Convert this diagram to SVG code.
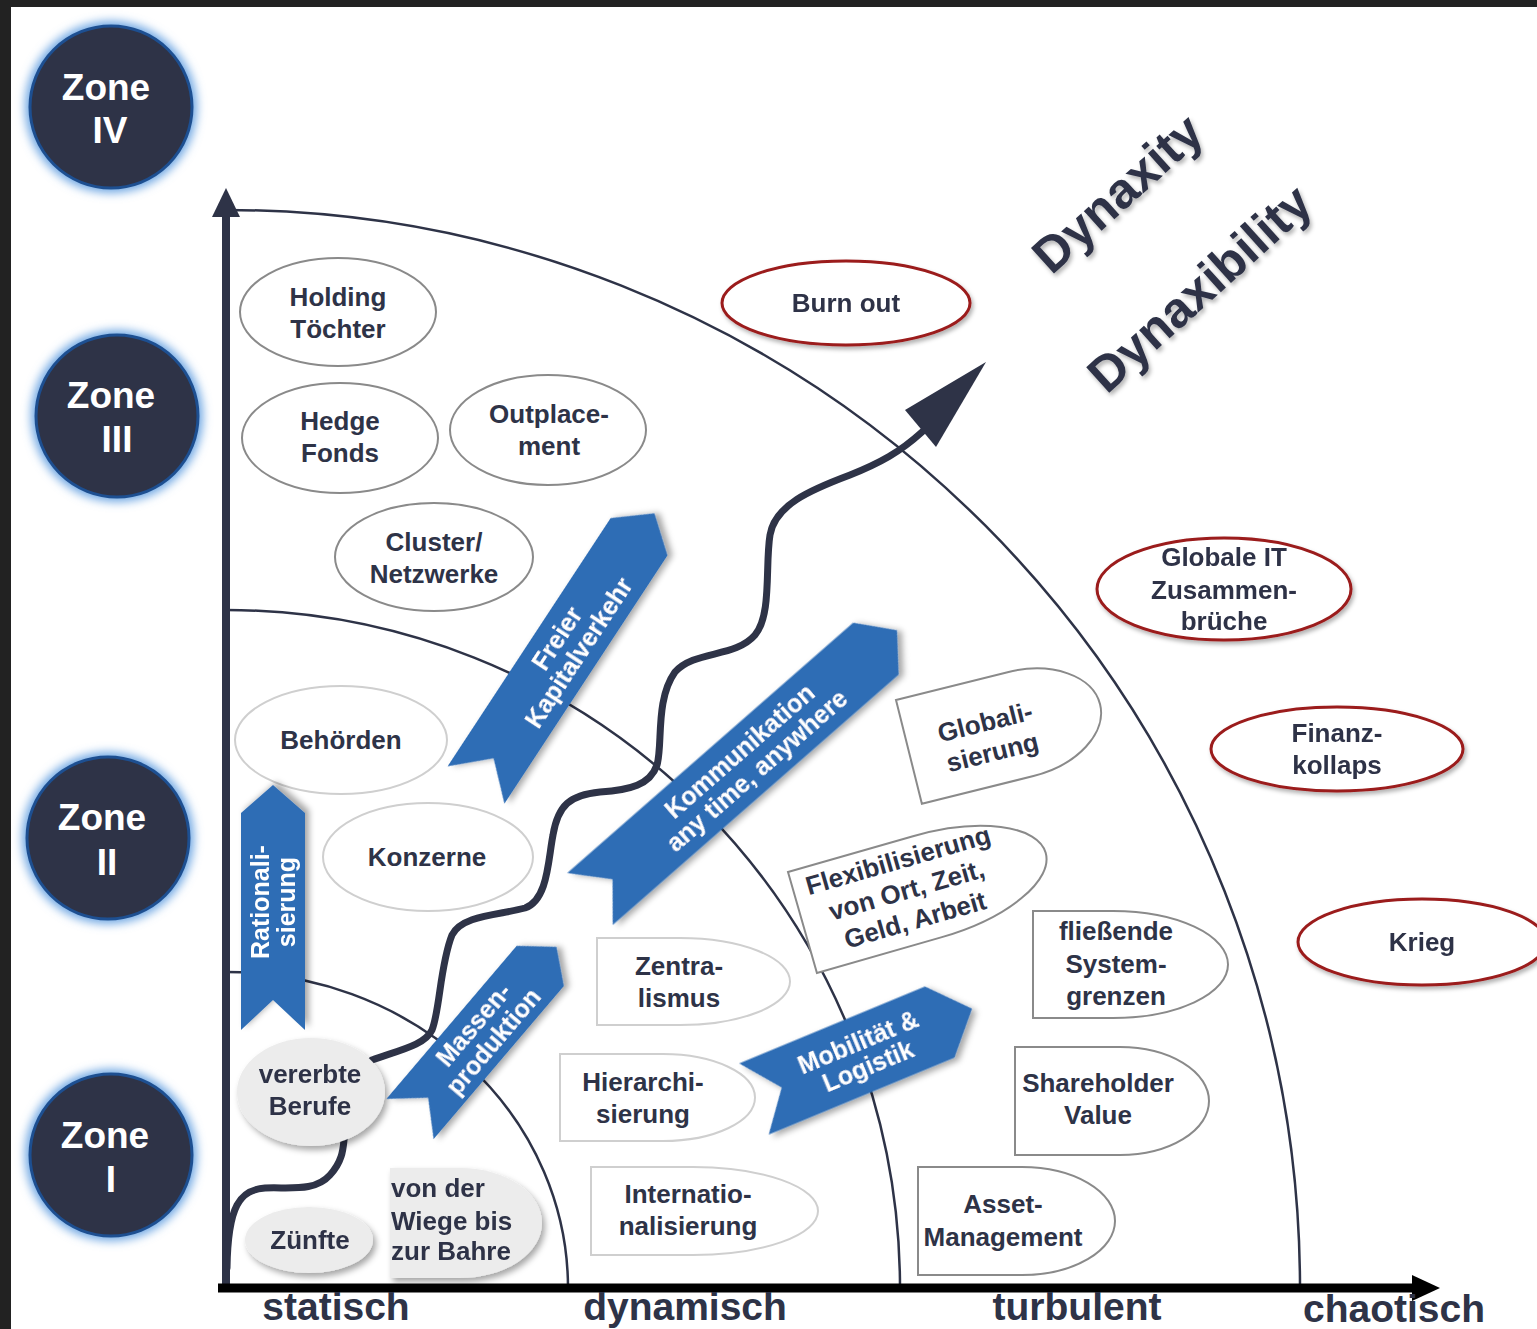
<svg xmlns="http://www.w3.org/2000/svg" width="1537" height="1329" viewBox="0 0 1537 1329">
<defs>
<style>
.t{font-family:"Liberation Sans",Arial,Helvetica,sans-serif;font-weight:bold;font-size:26px;fill:#2e3347;text-anchor:middle}
.w{font-family:"Liberation Sans",Arial,Helvetica,sans-serif;font-weight:bold;font-size:25px;fill:#ffffff;text-anchor:middle}
.z{font-family:"Liberation Sans",Arial,Helvetica,sans-serif;font-weight:bold;font-size:37px;fill:#ffffff;text-anchor:middle}
.ax{font-family:"Liberation Sans",Arial,Helvetica,sans-serif;font-weight:bold;font-size:39px;fill:#2e3347;text-anchor:middle}
.big{font-family:"Liberation Sans",Arial,Helvetica,sans-serif;font-weight:bold;font-size:50px;fill:#2e3347;text-anchor:middle}
.e1{fill:#ffffff;stroke:#8a8a8a;stroke-width:2}
.e2{fill:#ffffff;stroke:#cfcfcf;stroke-width:2}
.g{fill:#ececec;stroke:none}
.r{fill:#ffffff;stroke:#9b1b1b;stroke-width:3}
.rib{fill:#2f6db5}
.arc{fill:none;stroke:#2e3347;stroke-width:2.5}
.zc{fill:#2e3347;stroke:#1d4f91;stroke-width:3}
.zg{fill:#6fa7e3}
</style>
<filter id="sh" x="-20%" y="-20%" width="150%" height="150%">
<feDropShadow dx="3" dy="4" stdDeviation="3" flood-color="#000" flood-opacity="0.35"/>
</filter>
<filter id="tsh" x="-20%" y="-20%" width="150%" height="150%">
<feDropShadow dx="2" dy="3" stdDeviation="2" flood-color="#000" flood-opacity="0.3"/>
</filter>
<filter id="glow" x="-30%" y="-30%" width="160%" height="160%">
<feGaussianBlur stdDeviation="5"/>
</filter>
</defs>

<rect x="0" y="0" width="1537" height="1329" fill="#222222"/>
<rect x="11" y="7" width="1526" height="1322" fill="#ffffff"/>

<g id="connectors">
<path class="arc" d="M226,210 A1074,1078 0 0 1 1300,1288"/>
<path class="arc" d="M226,610 A674,678 0 0 1 900,1288"/>
<path class="arc" d="M226,972 A342,316 0 0 1 568,1288"/>
<line x1="226" y1="1292" x2="226" y2="212" stroke="#2e3347" stroke-width="8"/>
<polygon points="226,188 212,217 240,217" fill="#2e3347"/>
<line x1="218" y1="1288" x2="1416" y2="1288" stroke="#000000" stroke-width="9"/>
<polygon points="1440,1288 1412,1275 1412,1301" fill="#000000"/>
<path d="M227,1268 C228,1205 240,1190 265,1188 C290,1187 315,1192 330,1175 C342,1162 343,1150 344,1140 C350,1110 355,1070 372,1060 C400,1050 425,1045 432,1030 C440,1010 440,965 452,935 C462,915 500,915 525,908 C548,900 548,860 553,835 C558,805 570,795 600,792 C630,790 650,785 657,765 C663,745 655,700 675,672 C695,650 735,658 755,635 C772,615 765,565 770,535 C775,505 810,490 850,475 C880,463 900,452 922,432" fill="none" stroke="#2e3347" stroke-width="7" stroke-linecap="round"/>
<polygon points="986,362 936,447 905,410" fill="#2e3347"/>
</g>

<g id="zone4"><circle class="zg" cx="111" cy="107" r="86" filter="url(#glow)"/><circle class="zc" cx="111" cy="107" r="81"/><text class="z" x="106" y="100">Zone</text><text class="z" x="110" y="143">IV</text></g>
<g id="zone3"><circle class="zg" cx="117" cy="416" r="86" filter="url(#glow)"/><circle class="zc" cx="117" cy="416" r="81"/><text class="z" x="111" y="408">Zone</text><text class="z" x="117" y="452">III</text></g>
<g id="zone2"><circle class="zg" cx="108" cy="838" r="86" filter="url(#glow)"/><circle class="zc" cx="108" cy="838" r="81"/><text class="z" x="102" y="830">Zone</text><text class="z" x="107" y="875">II</text></g>
<g id="zone1"><circle class="zg" cx="111" cy="1155" r="86" filter="url(#glow)"/><circle class="zc" cx="111" cy="1155" r="81"/><text class="z" x="105" y="1148">Zone</text><text class="z" x="111" y="1192">I</text></g>

<g id="holding"><ellipse class="e1" cx="338" cy="312" rx="98" ry="54"/><text class="t" x="338" y="306">Holding</text><text class="t" x="338" y="338">Töchter</text></g>
<g id="hedge"><ellipse class="e1" cx="340" cy="438" rx="98" ry="55"/><text class="t" x="340" y="430">Hedge</text><text class="t" x="340" y="462">Fonds</text></g>
<g id="outplacement"><ellipse class="e1" cx="548" cy="430" rx="98" ry="55"/><text class="t" x="549" y="423">Outplace-</text><text class="t" x="549" y="455">ment</text></g>
<g id="cluster"><ellipse class="e1" cx="434" cy="557" rx="99" ry="54"/><text class="t" x="434" y="551">Cluster/</text><text class="t" x="434" y="583">Netzwerke</text></g>
<g id="behoerden"><ellipse class="e2" cx="341" cy="740" rx="106" ry="54"/><text class="t" x="341" y="749">Behörden</text></g>
<g id="konzerne"><ellipse class="e2" cx="428" cy="857" rx="105" ry="54"/><text class="t" x="427" y="866">Konzerne</text></g>
<g id="vererbte" filter="url(#sh)"><ellipse class="g" cx="311" cy="1092" rx="74" ry="54"/><text class="t" x="310" y="1083">vererbte</text><text class="t" x="310" y="1115">Berufe</text></g>
<g id="zuenfte" filter="url(#sh)"><ellipse class="g" cx="309" cy="1240" rx="64" ry="33"/><text class="t" x="310" y="1249">Zünfte</text></g>
<g id="wiege" filter="url(#sh)"><path class="g" d="M390,1168 H460 A82,55 0 0 1 460,1278 H390 Z"/><text class="t" style="text-anchor:start" x="391" y="1197">von der</text><text class="t" style="text-anchor:start" x="391" y="1230">Wiege bis</text><text class="t" style="text-anchor:start" x="391" y="1260">zur Bahre</text></g>

<g id="zentralismus"><path class="e2" d="M597,938 H680 A110,43.5 0 0 1 680,1025 H597 Z"/><text class="t" x="679" y="975">Zentra-</text><text class="t" x="679" y="1007">lismus</text></g>
<g id="hierarchisierung"><path class="e2" d="M560,1054 H663 A92,43.5 0 0 1 663,1141 H560 Z"/><text class="t" x="643" y="1091">Hierarchi-</text><text class="t" x="643" y="1123">sierung</text></g>
<g id="internationalisierung"><path class="e2" d="M591,1167 H693 A125,44 0 0 1 693,1255 H591 Z"/><text class="t" x="688" y="1203">Internatio-</text><text class="t" x="688" y="1235">nalisierung</text></g>

<g id="globalisierung" transform="translate(896,700) rotate(-14)"><path class="e1" d="M0,0 H115 A82,53.5 0 0 1 115,107 H0 Z"/><text class="t" x="81" y="52">Globali-</text><text class="t" x="81" y="83">sierung</text></g>
<g id="flexibilisierung" transform="translate(788,872) rotate(-16)"><path class="e1" d="M0,0 H130 A123,52.5 0 0 1 130,105 H0 Z"/><text class="t" x="109" y="28">Flexibilisierung</text><text class="t" x="109" y="59">von Ort, Zeit,</text><text class="t" x="109" y="90">Geld, Arbeit</text></g>
<g id="fliessende"><path class="e1" d="M1033,911 H1113 A115,53.5 0 0 1 1113,1018 H1033 Z"/><text class="t" x="1116" y="940">fließende</text><text class="t" x="1116" y="973">System-</text><text class="t" x="1116" y="1005">grenzen</text></g>
<g id="shareholder"><path class="e1" d="M1015,1047 H1120 A89,54 0 0 1 1120,1155 H1015 Z"/><text class="t" x="1098" y="1092">Shareholder</text><text class="t" x="1098" y="1124">Value</text></g>
<g id="asset"><path class="e1" d="M918,1167 H1022 A93,54 0 0 1 1022,1275 H918 Z"/><text class="t" x="1003" y="1213">Asset-</text><text class="t" x="1003" y="1246">Management</text></g>

<g id="burnout" filter="url(#tsh)"><ellipse class="r" cx="846" cy="303" rx="124" ry="42"/><text class="t" x="846" y="312">Burn out</text></g>
<g id="globaleit" filter="url(#tsh)"><ellipse class="r" cx="1224" cy="589" rx="127" ry="51"/><text class="t" x="1224" y="566">Globale IT</text><text class="t" x="1224" y="599">Zusammen-</text><text class="t" x="1224" y="630">brüche</text></g>
<g id="finanz" filter="url(#tsh)"><ellipse class="r" cx="1337" cy="749" rx="126" ry="42"/><text class="t" x="1337" y="742">Finanz-</text><text class="t" x="1337" y="774">kollaps</text></g>
<g id="krieg" filter="url(#tsh)"><ellipse class="r" cx="1422" cy="942" rx="124" ry="43"/><text class="t" x="1422" y="951">Krieg</text></g>

<g id="rationalisierung" transform="translate(273,1030) rotate(-90)" filter="url(#sh)"><polygon class="rib" points="0,-32 217,-32 245,0 217,32 0,32 30,0"/><text class="w" x="128" y="-4.5">Rationali-</text><text class="w" x="128" y="22">sierung</text></g>
<g id="kapitalverkehr" transform="translate(476,785) rotate(-56.7)" filter="url(#sh)"><polygon class="rib" points="0,-34 297,-34 325,0 297,34 0,34 32,0"/><text class="w" x="167" y="-4.5">Freier</text><text class="w" x="167" y="22">Kapitalverkehr</text></g>
<g id="kommunikation" transform="translate(590,899) rotate(-41.2)" filter="url(#sh)"><polygon class="rib" points="0,-34.5 380,-34.5 408,0 380,34.5 0,34.5 30,0"/><text class="w" x="210" y="-4.5">Kommunikation</text><text class="w" x="210" y="22">any time, anywhere</text></g>
<g id="massenproduktion" transform="translate(410,1119) rotate(-49.6)" filter="url(#sh)"><polygon class="rib" points="0,-31 201,-31 226,0 201,31 0,31 28,0"/><text class="w" x="113" y="-4.5">Massen-</text><text class="w" x="113" y="22">produktion</text></g>
<g id="mobilitaet" transform="translate(754,1099) rotate(-22.5)" filter="url(#sh)"><polygon class="rib" points="0,-38.5 201,-38.5 236,0 201,38.5 0,38.5 30,0"/><text class="w" x="118" y="-4.5">Mobilität &amp;</text><text class="w" x="118" y="22">Logistik</text></g>

<g id="dynaxity" filter="url(#tsh)"><text class="big" transform="translate(1129,206) rotate(-42)">Dynaxity</text></g>
<g id="dynaxibility" filter="url(#tsh)"><text class="big" transform="translate(1211,301) rotate(-42)">Dynaxibility</text></g>

<g id="axis-labels">
<text class="ax" x="336" y="1320">statisch</text>
<text class="ax" x="685" y="1320">dynamisch</text>
<text class="ax" x="1077" y="1320">turbulent</text>
<text class="ax" x="1394" y="1322">chaotisch</text>
</g>
</svg>
